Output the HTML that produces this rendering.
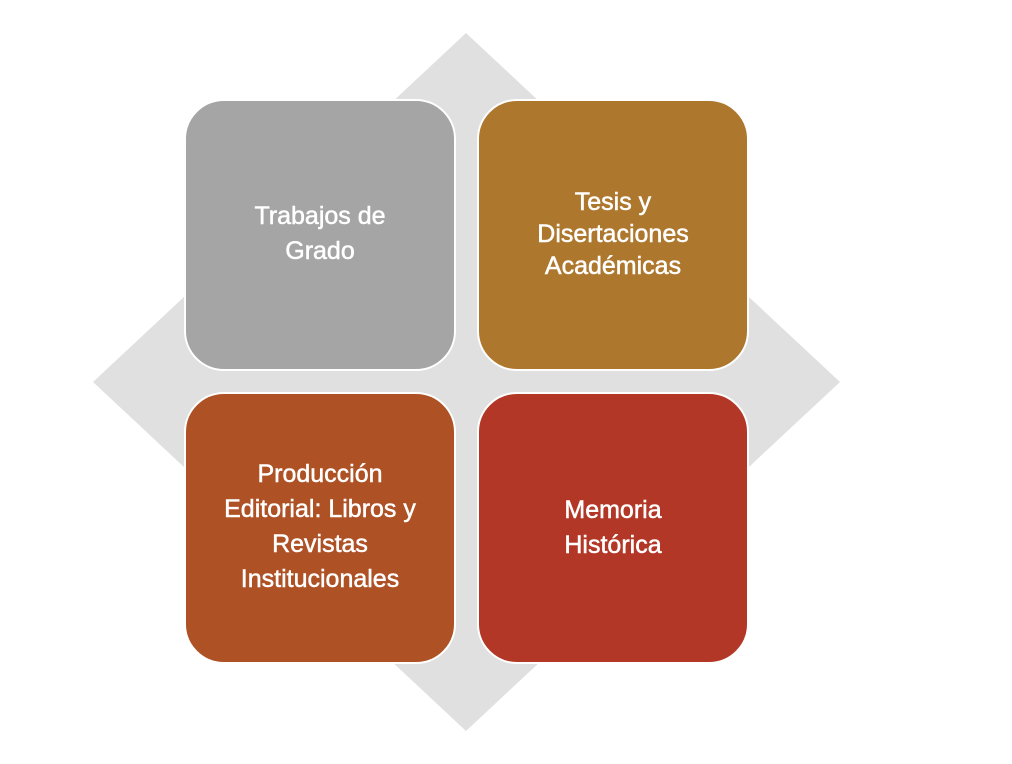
<!DOCTYPE html>
<html><head><meta charset="utf-8"><style>
html,body{margin:0;padding:0;background:#fff;width:1012px;height:764px;overflow:hidden;position:relative}
.b{position:absolute;width:268px;height:268px;border:2px solid #fff;border-radius:40px;display:flex;align-items:center;justify-content:center;text-align:center;color:#fff;font-family:"Liberation Sans",sans-serif;font-size:25px;line-height:35px;-webkit-text-stroke:0.5px #fff;box-sizing:content-box}
</style></head><body>
<svg width="1012" height="764" style="position:absolute;left:0;top:0">
<polygon points="466,33 840,382 466,731 93,382" fill="#e0e0e0"/>
</svg>
<div class="b" style="left:184px;top:99px;background:#a5a5a5"><div style="margin-top:-3px">Trabajos de<br>Grado</div></div>
<div class="b" style="left:477px;top:99px;background:#ad782e"><div style="line-height:32px;margin-top:-2px">Tesis y<br>Disertaciones<br>Académicas</div></div>
<div class="b" style="left:184px;top:392px;background:#ae5125"><div style="margin-top:-2px">Producción<br>Editorial: Libros y<br>Revistas<br>Institucionales</div></div>
<div class="b" style="left:477px;top:392px;background:#b33726"><div style="margin-top:0px">Memoria<br>Histórica</div></div>
</body></html>
